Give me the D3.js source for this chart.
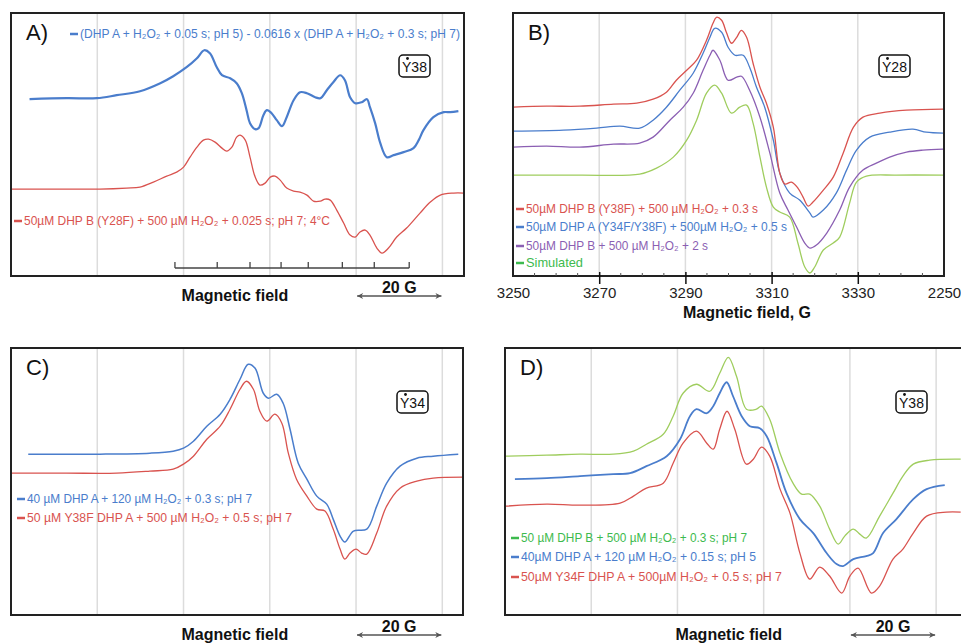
<!DOCTYPE html>
<html>
<head>
<meta charset="utf-8">
<script src="https://cdn.jsdelivr.net/npm/d3@7"></script>
<style>
  body { margin: 0; background: #fff; }
  svg { display: block; font-family: "Liberation Sans", Arial, sans-serif; }
</style>
</head>
<body>
<svg id="chart" width="961" height="643"></svg>
<script>
// Colours used in the figure
const RED = "#d9534f";
const BLUE = "#4a7dcc";
const PURPLE = "#8b5fb3";
const GREEN_LINE = "#9fcd5e";
const GREEN_TEXT = "#3dba4e";

// Panel A: relative field (G) vs signal (a.u.)
const aBlue = [[4.3,177],[12.9,178],[19.9,178],[24.5,181],[29.9,185],[34.6,193],[37.6,200],[40.7,209],[43.1,218],[44.8,226],[46.1,223],[47.7,209],[48.9,201],[50.8,198],[52.3,193],[53.5,183],[54.6,166],[55.4,153],[56.6,147],[57.4,148],[58.5,161],[59.3,166],[60.4,163],[61.6,156],[62.8,150],[63.9,159],[65.5,176],[67.0,184],[68.6,183],[70.5,179],[71.7,178],[73.2,186],[74.7,194],[76.3,201],[77.4,196],[78.6,179],[79.8,173],[81.3,174],[82.5,177],[83.2,169],[84.4,153],[85.6,133],[87.1,119],[88.7,121],[91.0,124],[93.3,128],[94.5,136],[95.6,146],[97.9,159],[100.3,164],[101.8,164],[103.7,165]];
const aRed = [[0.2,87],[12.9,87],[20.6,87],[26.8,88],[29.9,89],[33.0,94],[36.1,100],[38.4,104],[40.0,109],[41.5,119],[43.1,129],[44.6,136],[45.8,137],[47.3,134],[48.9,128],[50.0,125],[51.2,129],[52.3,139],[53.1,141],[54.3,136],[55.4,119],[56.6,99],[57.7,91],[58.9,93],[60.1,99],[61.2,100],[62.4,96],[63.9,88],[65.5,85],[67.0,84],[68.6,81],[70.1,75],[71.7,75],[72.8,77],[74.0,76],[75.5,66],[77.1,53],[78.6,41],[79.8,39],[80.9,44],[82.1,46],[83.2,41],[84.8,28],[86.0,23],[87.5,28],[89.4,39],[91.7,48],[94.8,63],[97.2,74],[99.5,81],[102.6,83],[104.9,83]];
// hyperfine stick positions (G)
const aSticks = [38.0, 47.8, 55.4, 62.6, 68.9, 76.8, 84.2, 92.3];

// Panel B: field (G) vs signal (a.u.)
const bRed = [[3250.1,169],[3257.8,170],[3265.5,170],[3273.3,172],[3278.7,173],[3282.5,177],[3285.6,184],[3287.9,196],[3290.3,206],[3292.6,216],[3294.9,236],[3296.4,253],[3297.2,259],[3298.4,256],[3299.5,244],[3300.7,233],[3301.9,239],[3303.0,246],[3304.2,239],[3305.7,213],[3307.3,189],[3308.8,173],[3310.4,149],[3311.9,103],[3313.1,92],[3314.6,94],[3316.1,88],[3317.3,79],[3318.5,70],[3319.6,74],[3322.0,86],[3324.3,99],[3326.6,123],[3329.0,149],[3331.2,159],[3335.1,163],[3341.3,166],[3349.8,167]];
const bBlue = [[3250.1,145],[3261.7,146],[3269.4,148],[3274.8,150],[3279.4,148],[3282.5,156],[3285.6,169],[3288.7,186],[3291.8,203],[3294.1,223],[3295.7,239],[3296.8,248],[3298.4,244],[3299.9,229],[3301.5,221],[3303.4,221],[3304.9,209],[3306.5,189],[3308.4,169],[3310.4,136],[3311.9,103],[3314.2,83],[3316.5,76],[3318.9,63],[3319.6,59],[3322.0,66],[3325.0,83],[3327.4,106],[3329.7,126],[3332.8,139],[3337.4,144],[3342.8,147],[3345.9,144],[3349.8,143]];
const bPurple = [[3250.1,129],[3257.8,130],[3265.5,129],[3273.3,132],[3279.4,133],[3282.5,139],[3286.4,156],[3289.5,169],[3291.8,183],[3294.1,206],[3295.7,221],[3296.4,226],[3298.0,216],[3299.9,196],[3301.9,199],[3303.0,200],[3304.9,186],[3307.3,159],[3309.6,123],[3311.9,83],[3313.8,66],[3315.8,49],[3317.7,33],[3318.9,28],[3320.4,31],[3322.8,43],[3325.8,66],[3328.1,89],[3331.2,106],[3334.3,113],[3337.4,119],[3341.3,124],[3345.1,126],[3349.8,127]];
const bGreen = [[3250.1,101],[3265.5,101],[3279.4,102],[3283.3,108],[3287.2,119],[3290.3,136],[3292.6,156],[3294.9,183],[3296.8,191],[3298.4,183],[3300.7,163],[3302.6,169],[3304.2,171],[3305.7,153],[3307.3,119],[3308.8,89],[3310.4,69],[3311.9,64],[3314.2,59],[3316.1,33],[3317.7,9],[3318.9,3],[3320.0,9],[3322.0,26],[3324.3,33],[3325.8,39],[3328.1,73],[3329.7,94],[3332.0,100],[3338.9,101],[3349.8,101]];
const bTicks = [3250, 3270, 3290, 3310, 3330, 3350];
const bTickLabels = ["3250", "3270", "3290", "3310", "3330", "2250"];

// Panel C
const cBlue = [[4.0,161],[20.6,161],[32.2,162],[37.6,164],[40.0,167],[42.3,174],[45.4,189],[48.5,201],[50.8,216],[53.1,236],[55.0,251],[56.6,247],[58.5,222],[59.7,217],[61.6,221],[63.1,212],[64.7,186],[66.6,152],[68.6,136],[70.9,119],[73.2,111],[74.7,96],[76.3,79],[77.4,73],[79.4,84],[82.5,86],[84.8,109],[87.1,132],[90.2,149],[94.1,157],[97.9,159],[103.7,161]];
const cRed = [[0.2,142],[12.9,142],[24.5,142],[32.2,144],[37.6,146],[40.0,151],[42.3,159],[45.4,176],[48.5,189],[50.8,206],[53.1,226],[54.6,234],[56.2,226],[57.7,204],[59.3,194],[61.2,201],[62.8,192],[64.3,162],[66.2,136],[68.6,119],[70.9,106],[72.8,104],[74.7,86],[76.3,66],[77.4,56],[78.6,62],[80.0,66],[81.3,62],[82.5,61],[84.8,82],[87.1,109],[90.2,127],[94.1,134],[97.9,137],[104.9,138]];

// Panel D
const dGreen = [[0.2,159],[9.7,160],[17.4,161],[25.1,161],[29.8,164],[32.8,171],[36.7,181],[39.0,199],[41.3,222],[44.4,231],[47.5,224],[49.8,242],[51.8,258],[53.7,239],[56.0,206],[58.3,206],[59.5,209],[61.4,196],[63.8,162],[66.8,132],[68.8,121],[70.7,121],[73.0,109],[75.3,86],[77.3,71],[78.8,79],[80.8,86],[82.3,81],[83.8,77],[86.9,99],[90.0,122],[92.3,139],[94.7,151],[98.5,155],[105.7,156]];
const dBlue = [[2.3,136],[9.7,137],[17.4,139],[25.1,141],[29.0,142],[32.8,149],[37.5,159],[40.6,176],[42.9,199],[44.4,206],[46.8,202],[48.3,209],[49.8,222],[51.4,233],[52.9,219],[54.9,199],[56.8,189],[59.1,187],[60.7,179],[63.0,152],[65.3,122],[68.4,96],[71.5,82],[74.6,62],[76.9,51],[78.4,49],[80.8,56],[83.8,59],[85.4,62],[87.7,82],[90.8,96],[94.7,116],[97.8,126],[102.0,130]];
const dRed = [[0.2,109],[9.7,111],[17.4,110],[26.7,112],[29.8,119],[32.8,127],[36.7,132],[39.0,152],[41.3,172],[44.4,184],[46.8,172],[48.3,166],[49.8,186],[51.5,204],[53.3,186],[56.0,151],[57.6,156],[59.5,168],[61.4,159],[63.8,126],[66.1,102],[68.4,62],[70.7,36],[73.0,48],[75.3,39],[78.1,22],[80.0,39],[81.9,47],[85.0,22],[86.9,29],[90.0,56],[92.3,66],[94.7,82],[97.8,99],[102.4,103],[105.7,103]];

// Legend texts
const aLegend = ["(DHP A + H₂O₂ + 0.05 s; pH 5) - 0.0616 x (DHP A + H₂O₂ + 0.3 s; pH 7)",
                 "50µM DHP B (Y28F) + 500 µM H₂O₂ + 0.025 s; pH 7; 4°C"];
const bLegend = ["50µM DHP B (Y38F) + 500 µM H₂O₂ + 0.3 s",
                 "50µM DHP A (Y34F/Y38F) + 500µM H₂O₂ + 0.5 s",
                 "50µM DHP B + 500 µM H₂O₂ + 2 s",
                 "Simulated"];
const cLegend = ["40 µM DHP A + 120 µM H₂O₂ + 0.3 s; pH 7",
                 "50 µM Y38F DHP A + 500 µM H₂O₂ + 0.5 s; pH 7"];
const dLegend = ["50 µM DHP B + 500 µM H₂O₂ + 0.3 s; pH 7",
                 "40µM DHP A + 120 µM H₂O₂ + 0.15 s; pH 5",
                 "50µM Y34F DHP A + 500µM H₂O₂ + 0.5 s; pH 7"];
const relGrid = [20, 40, 60, 80, 100];
const bGrid = [3270, 3290, 3310, 3330];

const svg = d3.select("#chart");

function drawPanel(cfg) {
    const g = svg.append("g");
    const x = d3.scaleLinear().domain(cfg.domain).range([cfg.x, cfg.x + cfg.w]);
    const y = d3.scaleLinear().domain([0, cfg.yMax]).range([cfg.y + cfg.h, cfg.y]);

    // vertical grid
    g.selectAll(".grid")
        .data(cfg.grid)
        .enter()
        .append("line")
        .attr("x1", d => x(d)).attr("x2", d => x(d))
        .attr("y1", cfg.y).attr("y2", cfg.y + cfg.h)
        .attr("stroke", "#dcdcdc")
        .attr("stroke-width", 1.5);

    // spectra
    const line = d3.line()
        .x(d => x(d[0]))
        .y(d => y(d[1]))
        .curve(d3.curveCatmullRom.alpha(0.5));
    cfg.series.forEach(s => {
        g.append("path")
            .attr("d", line(s.data))
            .attr("fill", "none")
            .attr("stroke", s.color)
            .attr("stroke-width", s.width || 1.3)
            .attr("stroke-linejoin", "round");
    });

    // frame
    g.append("rect")
        .attr("x", cfg.x).attr("y", cfg.y)
        .attr("width", cfg.w).attr("height", cfg.h)
        .attr("fill", "none")
        .attr("stroke", "#222")
        .attr("stroke-width", 2);

    // panel letter
    g.append("text")
        .attr("x", cfg.x + 15).attr("y", cfg.y + 27)
        .attr("font-size", 22)
        .attr("fill", "#111")
        .text(cfg.title);

    // radical badge
    const b = g.append("g").attr("transform", `translate(${cfg.badge[0]},${cfg.badge[1]})`);
    b.append("rect")
        .attr("width", 31).attr("height", 22).attr("rx", 4)
        .attr("fill", "#fff").attr("stroke", "#111").attr("stroke-width", 1.5);
    b.append("text")
        .attr("x", 15.5).attr("y", 17)
        .attr("text-anchor", "middle")
        .attr("font-size", 14)
        .attr("fill", "#111")
        .text("Y" + cfg.badgeLabel);
    b.append("circle").attr("cx", 8.5).attr("cy", 3.5).attr("r", 1.4).attr("fill", "#111");

    // legend
    cfg.legend.forEach(l => {
        g.append("line")
            .attr("x1", l.x).attr("x2", l.x + 8)
            .attr("y1", l.y - 4).attr("y2", l.y - 4)
            .attr("stroke", l.color).attr("stroke-width", 2.5);
        g.append("text")
            .attr("x", l.x + 10).attr("y", l.y)
            .attr("font-size", 13.5)
            .attr("fill", l.textColor || l.color)
            .attr("textLength", l.end - l.x - 10)
            .attr("lengthAdjust", "spacingAndGlyphs")
            .text(l.text);
    });

    return { g, x, y };
}

// scale bar + caption used under panels A, C and D
function relativeAxis(p, cfg) {
    const base = cfg.y + cfg.h;
    p.g.append("text")
        .attr("x", p.x(51.9)).attr("y", base + 25)
        .attr("text-anchor", "middle")
        .attr("font-size", 16).attr("font-weight", "bold").attr("fill", "#111")
        .text("Magnetic field");
    p.g.append("text")
        .attr("x", p.x(90)).attr("y", base + 17)
        .attr("text-anchor", "middle")
        .attr("font-size", 16).attr("font-weight", "bold").attr("fill", "#111")
        .text("20 G");
    p.g.append("line")
        .attr("x1", p.x(80) + 1).attr("x2", p.x(100) - 1)
        .attr("y1", base + 20).attr("y2", base + 20)
        .attr("stroke", "#555").attr("stroke-width", 1.5)
        .attr("marker-start", "url(#arrow-start)")
        .attr("marker-end", "url(#arrow-end)");
}

const defs = svg.append("defs");
defs.append("marker").attr("id", "arrow-end")
    .attr("viewBox", "0 0 10 10").attr("refX", 10).attr("refY", 5)
    .attr("markerWidth", 8).attr("markerHeight", 6).attr("markerUnits", "userSpaceOnUse")
    .attr("orient", "auto")
    .append("path").attr("d", "M0,0 L10,5 L0,10 L3,5 Z").attr("fill", "#555");
defs.append("marker").attr("id", "arrow-start")
    .attr("viewBox", "0 0 10 10").attr("refX", 0).attr("refY", 5)
    .attr("markerWidth", 8).attr("markerHeight", 6).attr("markerUnits", "userSpaceOnUse")
    .attr("orient", "auto")
    .append("path").attr("d", "M10,0 L0,5 L10,10 L7,5 Z").attr("fill", "#555");

// Panel A
const cfgA = {
    title: "A)", x: 11, y: 13, w: 453, h: 263, domain: [0, 105], yMax: 263.3, grid: relGrid,
    badge: [399, 55], badgeLabel: "38",
    series: [{ data: aRed, color: RED }, { data: aBlue, color: BLUE, width: 2.2 }],
    legend: [
        { text: aLegend[0], color: BLUE, x: 70, y: 38, end: 460 },
        { text: aLegend[1], color: RED, x: 14, y: 225, end: 330 }
    ]
};
const pA = drawPanel(cfgA);
relativeAxis(pA, cfgA);
// stick diagram
const stickY = 268;
pA.g.append("line")
    .attr("x1", pA.x(aSticks[0])).attr("x2", pA.x(aSticks[aSticks.length - 1]))
    .attr("y1", stickY).attr("y2", stickY)
    .attr("stroke", "#444").attr("stroke-width", 1.3);
pA.g.selectAll(".stick")
    .data(aSticks)
    .enter()
    .append("line")
    .attr("x1", d => pA.x(d)).attr("x2", d => pA.x(d))
    .attr("y1", stickY).attr("y2", stickY - 6)
    .attr("stroke", "#444").attr("stroke-width", 1.3);

// Panel B
const cfgB = {
    title: "B)", x: 513, y: 13, w: 431, h: 263, domain: [3250, 3350], yMax: 263.3, grid: bGrid,
    badge: [879, 55], badgeLabel: "28",
    series: [
        { data: bGreen, color: GREEN_LINE },
        { data: bPurple, color: PURPLE },
        { data: bBlue, color: BLUE },
        { data: bRed, color: RED }
    ],
    legend: [
        { text: bLegend[0], color: RED, x: 516, y: 213, end: 758 },
        { text: bLegend[1], color: BLUE, x: 516, y: 231, end: 787 },
        { text: bLegend[2], color: PURPLE, x: 516, y: 250, end: 708 },
        { text: bLegend[3], color: GREEN_TEXT, x: 516, y: 267, end: 583 }
    ]
};
const pB = drawPanel(cfgB);
const bBase = cfgB.y + cfgB.h;
// minor ticks every 5 G
pB.g.selectAll(".minor")
    .data(d3.range(3255, 3350, 5).filter(v => !bGrid.includes(v)))
    .enter()
    .append("line")
    .attr("x1", d => pB.x(d)).attr("x2", d => pB.x(d))
    .attr("y1", bBase).attr("y2", bBase - 3)
    .attr("stroke", "#555").attr("stroke-width", 1);
const bAxis = d3.axisBottom(pB.x)
    .tickValues(bTicks)
    .tickFormat((d, i) => bTickLabels[i])
    .tickSizeOuter(0)
    .tickSizeInner(8);
const axG = pB.g.append("g").attr("transform", `translate(0,${bBase})`).call(bAxis);
axG.select(".domain").remove();
axG.selectAll(".tick line")
    .attr("y1", -4)
    .attr("stroke", "#111").attr("stroke-width", 1.5)
    .attr("display", d => (d === 3250 || d === 3350) ? "none" : null);
axG.selectAll(".tick text")
    .attr("y", 22).attr("dy", 0)
    .attr("font-size", 15).attr("fill", "#222")
    .attr("font-family", "\"Liberation Sans\", Arial, sans-serif");
pB.g.append("text")
    .attr("x", 747).attr("y", bBase + 42)
    .attr("text-anchor", "middle")
    .attr("font-size", 16).attr("font-weight", "bold").attr("fill", "#111")
    .text("Magnetic field, G");

// Panel C
const cfgC = {
    title: "C)", x: 11, y: 348, w: 452, h: 267, domain: [0, 104.8], yMax: 267.3, grid: relGrid,
    badge: [397, 391], badgeLabel: "34",
    series: [{ data: cRed, color: RED }, { data: cBlue, color: BLUE, width: 1.5 }],
    legend: [
        { text: cLegend[0], color: BLUE, x: 17, y: 503, end: 252 },
        { text: cLegend[1], color: RED, x: 17, y: 522, end: 292 }
    ]
};
const pC = drawPanel(cfgC);
relativeAxis(pC, cfgC);

// Panel D (runs off the right edge of the figure)
const cfgD = {
    title: "D)", x: 505, y: 348, w: 460, h: 267, domain: [0, 106.7], yMax: 267.3, grid: relGrid,
    badge: [896, 391], badgeLabel: "38",
    series: [
        { data: dRed, color: RED },
        { data: dBlue, color: BLUE, width: 1.8 },
        { data: dGreen, color: GREEN_LINE }
    ],
    legend: [
        { text: dLegend[0], color: GREEN_TEXT, x: 511, y: 542, end: 747 },
        { text: dLegend[1], color: BLUE, x: 511, y: 561, end: 756 },
        { text: dLegend[2], color: RED, x: 511, y: 581, end: 782 }
    ]
};
const pD = drawPanel(cfgD);
relativeAxis(pD, cfgD);
</script>
</body>
</html>
